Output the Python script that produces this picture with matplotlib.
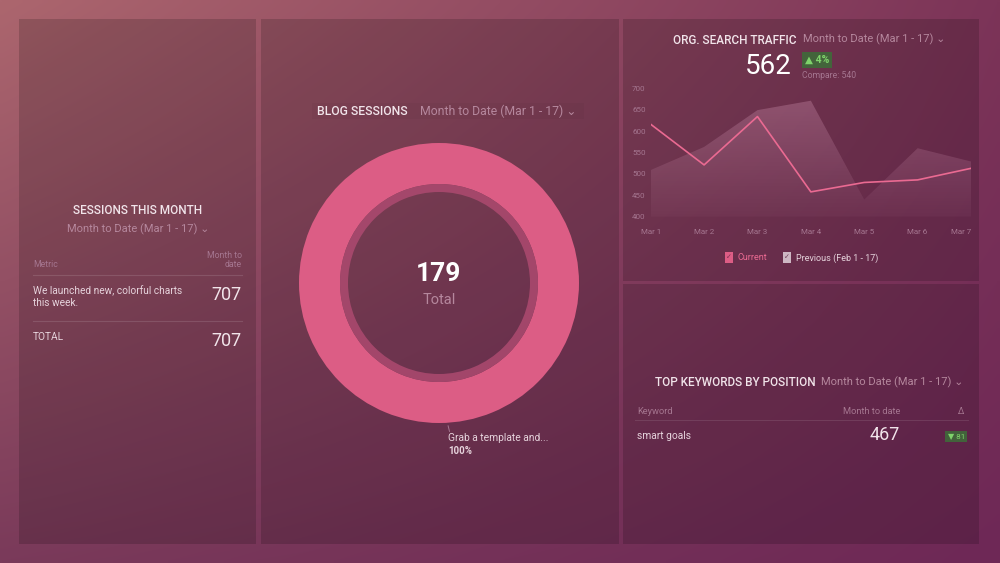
import numpy as np
import matplotlib
matplotlib.use("Agg")
import matplotlib.pyplot as plt
from matplotlib.patches import Rectangle, Polygon

plt.rcParams['font.family'] = ['Roboto', 'DejaVu Sans']

# ---------------- data ----------------
days = ["Mar 1", "Mar 2", "Mar 3", "Mar 4", "Mar 5", "Mar 6", "Mar 7"]
current = [616, 521, 634, 458, 480, 486, 513]
previous = [509, 563, 649, 671, 440, 560, 529]
y_ticks = [400, 450, 500, 550, 600, 650, 700]
traffic_total = 562
traffic_compare = 540
traffic_change = "4%"

blog_labels = ["Grab a template and..."]
blog_sessions = [179]

sessions_metric = ["We launched new, colorful charts\nthis week."]
sessions_values = [707]
sessions_total = 707

keywords = ["smart goals"]
keyword_values = [467]
keyword_delta = ["81"]

date_range = "Month to Date (Mar 1 - 17)"

# ---------------- style ----------------
W, H = 1000, 563
fig = plt.figure(figsize=(W / 100, H / 100), dpi=100)

PINK = "#dc5d85"
LINE = "#ea6a92"
TITLE = "#f1e4ea"
MUTED = "#b5879d"
SMALL = "#a57690"
BODY = "#e6d3dc"


def fx(x):
    return x / W


def fy(y):
    return 1 - y / H


def T(x, y, s, **kw):
    kw.setdefault("va", "center")
    return fig.text(fx(x), fy(y), s, **kw)


# background gradient
bg = fig.add_axes([0, 0, 1, 1], zorder=-10)
tl = np.array([172, 102, 110]) / 255
tr = np.array([124, 52, 88]) / 255
bl = np.array([122, 58, 90]) / 255
br = np.array([110, 40, 86]) / 255
xx = np.linspace(0, 1, 200)[None, :, None]
yy = np.linspace(0, 1, 113)[:, None, None]
img = (tl * (1 - xx) * (1 - yy) + tr * xx * (1 - yy) + bl * (1 - xx) * yy + br * xx * yy)
bg.imshow(img, aspect="auto", extent=[0, 1, 1, 0], interpolation="bilinear")
bg.set_xlim(0, 1)
bg.set_ylim(1, 0)
bg.axis("off")

# panels
panels = [(19, 19, 256, 544), (261, 19, 619, 544), (623, 19, 979, 281), (623, 284, 979, 544)]
for x0, y0, x1, y1 in panels:
    fig.patches.append(Rectangle((fx(x0), fy(y1)), fx(x1 - x0), (y1 - y0) / H,
                                 transform=fig.transFigure, fc="black", alpha=0.16,
                                 ec="none", zorder=-5))

# ---------------- panel 1: sessions this month ----------------
T(138, 210, "SESSIONS THIS MONTH", ha="center", color=TITLE, fontsize=8.5, weight="medium")
T(138, 229, date_range + " ⌄", ha="center", color=MUTED, fontsize=8)
T(33, 265, "Metric", ha="left", color=SMALL, fontsize=6.3)
T(242, 260, "Month to\ndate", ha="right", color=SMALL, fontsize=6.3, linespacing=1.1, ma="right")
fig.add_artist(plt.Line2D([fx(33), fx(242)], [fy(275), fy(275)], color="white", alpha=0.12, lw=0.8))
T(33, 297, sessions_metric[0], ha="left", color=BODY, fontsize=7.3, linespacing=1.2)
T(242, 295, f"{sessions_values[0]}", ha="right", color=TITLE, fontsize=13)
fig.add_artist(plt.Line2D([fx(33), fx(242)], [fy(321), fy(321)], color="white", alpha=0.12, lw=0.8))
T(33, 337, "TOTAL", ha="left", color=BODY, fontsize=7.3)
T(242, 341, f"{sessions_total}", ha="right", color=TITLE, fontsize=13)

# ---------------- panel 2: blog sessions donut ----------------
fig.patches.append(Rectangle((fx(312), fy(119)), fx(272), 16 / H, transform=fig.transFigure,
                             fc="black", alpha=0.03, ec="none"))
T(317, 111, "BLOG SESSIONS", ha="left", color=TITLE, fontsize=8.8, weight="medium")
T(420, 111, date_range + " ⌄", ha="left", color=MUTED, fontsize=8.8)

R = 140
cx, cy = 439, 283
half = 150
axd = fig.add_axes([fx(cx - half), fy(cy + half), 2 * half / W, 2 * half / H])
axd.pie(blog_sessions, radius=1, colors=[PINK], startangle=90, counterclock=False,
        wedgeprops=dict(width=41 / R, edgecolor="none"))
axd.pie(blog_sessions, radius=99 / R, colors=["#ad4a70"], startangle=90, counterclock=False,
        wedgeprops=dict(width=8 / R, edgecolor="none", alpha=0.85))
lim = half / R
axd.set_xlim(-lim, lim)
axd.set_ylim(-lim, lim)
axd.set_aspect("equal")
axd.axis("off")
axd.annotate("", xy=(0.06, -1.0), xytext=(0.08, -1.08),
             arrowprops=dict(arrowstyle="-", color=SMALL, lw=0.7))
axd.text(0.0, 0.065, f"{sum(blog_sessions)}", ha="center", va="center", color="white",
         fontsize=19, weight="bold")
axd.text(0.0, -0.12, "Total", ha="center", va="center", color=MUTED, fontsize=10.5)
T(448, 438, blog_labels[0], ha="left", color=BODY, fontsize=7.4)
T(448, 451, "100%", ha="left", color=BODY, fontsize=7, weight="bold")

# ---------------- panel 3: org. search traffic ----------------
T(673, 40, "ORG. SEARCH TRAFFIC", ha="left", color=TITLE, fontsize=8.5, weight="medium")
T(803, 39, date_range + " ⌄", ha="left", color=MUTED, fontsize=8)
T(792, 67, f"{traffic_total}", ha="right", color="white", fontsize=20)
T(805, 60, "▲ " + traffic_change, ha="left", color="#7fd36b", fontsize=7.5, weight="bold",
  bbox=dict(boxstyle="square,pad=0.25", fc="#3f6a3a", ec="none", alpha=0.9))
T(802, 76, f"Compare: {traffic_compare}", ha="left", color=SMALL, fontsize=6.2)

ax0, ax1 = 650.7, 971.0
ay0, ay1 = 88.3, 216.7
ax = fig.add_axes([fx(ax0), fy(ay1), (ax1 - ax0) / W, (ay1 - ay0) / H])
ax.patch.set_alpha(0)
xs = np.arange(len(days))
# gradient fill for previous period
poly_verts = [(0, 400)] + list(zip(xs, previous)) + [(xs[-1], 400)]
grad_img = np.zeros((256, 1, 4))
grad_img[..., :3] = np.array([0.88, 0.64, 0.76])
grad_img[..., 3] = (0.05 + 0.27 * np.linspace(1, 0, 256))[:, None]
im = ax.imshow(grad_img, aspect="auto", extent=[0, xs[-1], 400, 700], origin="upper", zorder=1)
poly = Polygon(poly_verts, closed=True, fc="none", ec="none")
ax.add_patch(poly)
im.set_clip_path(poly)
ax.plot(xs, current, color=LINE, lw=1.2, zorder=3)
ax.set_xlim(0, xs[-1])
ax.set_ylim(400, 700)
ax.set_xticks(xs)
ax.set_xticklabels(days)
ax.set_yticks(y_ticks)
ax.set_yticklabels([str(v) for v in y_ticks])
ax.tick_params(length=0, labelsize=5.8, labelcolor=SMALL)
ax.tick_params(axis="x", pad=9)
ax.tick_params(axis="y", pad=0)
for lab in ax.get_yticklabels():
    lab.set_horizontalalignment("left")
    lab.set_x(-0.058)
ax.get_xticklabels()[-1].set_horizontalalignment("right")
ax.get_xticklabels()[-1].set_x(xs[-1] + 0.2)
for s in ax.spines.values():
    s.set_visible(False)

# legend
T(729, 257.5, "✓", ha="center", color="#7a2c52", fontsize=5, weight="bold",
  bbox=dict(boxstyle="square,pad=0.15", fc=PINK, ec="none"))
T(737, 258, "Current", ha="left", color=LINE, fontsize=6.5)
T(787, 257.5, "✓", ha="center", color="#6a3a55", fontsize=5, weight="bold",
  bbox=dict(boxstyle="square,pad=0.15", fc="#cdb7c3", ec="none"))
T(796, 258, "Previous (Feb 1 - 17)", ha="left", color=BODY, fontsize=6.5)

# ---------------- panel 4: top keywords ----------------
T(655, 383, "TOP KEYWORDS BY POSITION", ha="left", color=TITLE, fontsize=8.5, weight="medium")
T(821, 382, date_range + " ⌄", ha="left", color=MUTED, fontsize=8)
T(637, 411, "Keyword", ha="left", color=SMALL, fontsize=6.7)
T(900, 411, "Month to date", ha="right", color=SMALL, fontsize=6.7)
T(964, 411, "Δ", ha="right", color=SMALL, fontsize=6.5)
fig.add_artist(plt.Line2D([fx(635), fx(968)], [fy(420), fy(420)], color="white", alpha=0.10, lw=0.8))
T(637, 436, keywords[0], ha="left", color=BODY, fontsize=7.4)
T(900, 435, f"{keyword_values[0]}", ha="right", color=TITLE, fontsize=13)
T(965, 436.5, "▼ " + keyword_delta[0], ha="right", color="#7fd36b", fontsize=5.8,
  bbox=dict(boxstyle="square,pad=0.3", fc="#3f6a3a", ec="none", alpha=0.9))

fig.savefig("out.png", dpi=100)
